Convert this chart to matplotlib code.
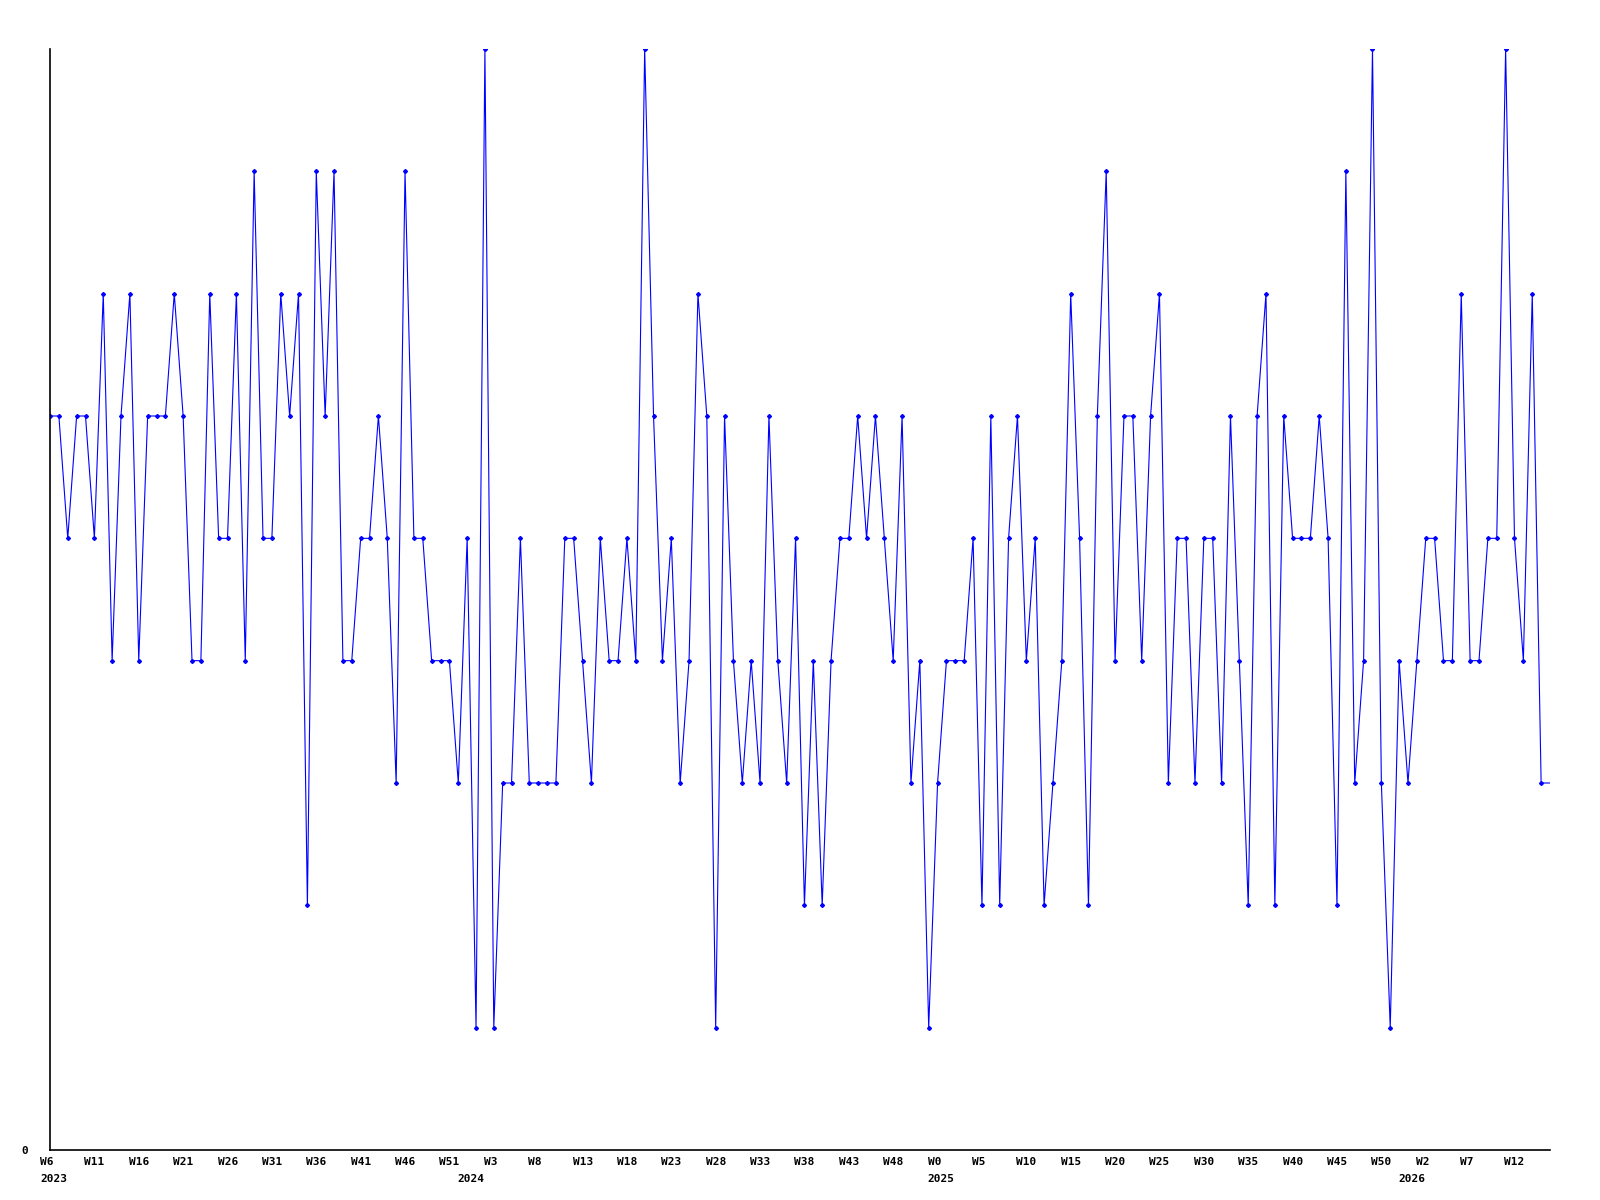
import matplotlib
matplotlib.use("Agg")
import matplotlib.pyplot as plt
import matplotlib.transforms as mtransforms

# weekly counts, 2023 W6 .. 2026 W16
values = [6, 6, 5, 6, 6, 5, 7, 4, 6, 7,
          4, 6, 6, 6, 7, 6, 4, 4, 7, 5,
          5, 7, 4, 8, 5, 5, 7, 6, 7, 2,
          8, 6, 8, 4, 4, 5, 5, 6, 5, 3,
          8, 5, 5, 4, 4, 4, 3, 5, 1, 9,
          1, 3, 3, 5, 3, 3, 3, 3, 5, 5,
          4, 3, 5, 4, 4, 5, 4, 9, 6, 4,
          5, 3, 4, 7, 6, 1, 6, 4, 3, 4,
          3, 6, 4, 3, 5, 2, 4, 2, 4, 5,
          5, 6, 5, 6, 5, 4, 6, 3, 4, 1,
          3, 4, 4, 4, 5, 2, 6, 2, 5, 6,
          4, 5, 2, 3, 4, 7, 5, 2, 6, 8,
          4, 6, 6, 4, 6, 7, 3, 5, 5, 3,
          5, 5, 3, 6, 4, 2, 6, 7, 2, 6,
          5, 5, 5, 6, 5, 2, 8, 3, 4, 9,
          3, 1, 4, 3, 4, 5, 5, 4, 4, 7,
          4, 4, 5, 5, 9, 5, 4, 7, 3, 3]

years = [2023, 2024, 2025, 2026]
first_week = 6     # first week shown in 2023
last_week = 16     # last week shown in 2026
weeks_per_year = 53  # W0 .. W52

week_labels = ["W6", "W11", "W16", "W21", "W26", "W31", "W36", "W41", "W46", "W51",
               "W3", "W8", "W13", "W18", "W23", "W28", "W33", "W38", "W43", "W48",
               "W0", "W5", "W10", "W15", "W20", "W25", "W30", "W35", "W40", "W45", "W50",
               "W2", "W7", "W12"]
year_labels = ["2023", "2024", "2025", "2026"]

# build the week categories
cats = []
for y in years:
    start = first_week if y == years[0] else 0
    end = last_week if y == years[-1] else weeks_per_year - 1
    for w in range(start, end + 1):
        cats.append((y, w))

x = list(range(len(cats)))
tick_pos = [i for i in x if i % 5 == 0][:len(week_labels)]
year_pos = [i for i, (y, w) in enumerate(cats) if i == 0 or w == 0]

plt.rcParams['font.family'] = ['DejaVu Sans Mono']
plt.rcParams['font.weight'] = 'bold'

fig = plt.figure(figsize=(16, 12), dpi=100)
ax = fig.add_axes([50 / 1600, 50 / 1200, 1500 / 1600, 1101 / 1200])

ax.plot(x, values, color="#0000ff", linewidth=0.8, marker="D", markersize=2.0,
        markevery=slice(0, len(x) - 1))

ax.set_xlim(0, len(x) - 1)
ax.set_ylim(0, 9)
for s in ["top", "right"]:
    ax.spines[s].set_visible(False)
ax.spines["left"].set_linewidth(1.2)
ax.spines["bottom"].set_linewidth(1.2)

ax.set_yticks([0], ["0"])
ax.tick_params(axis="y", length=0, pad=16, labelsize=8)

ax.xaxis.remove_overlapping_locs = False
ax.set_xticks(tick_pos, week_labels)
ax.set_xticks(year_pos, year_labels, minor=True)
ax.tick_params(axis="x", which="major", length=0, pad=5, labelsize=8)
ax.tick_params(axis="x", which="minor", length=0, pad=17, labelsize=8)

# labels start a little left of their week
shift = mtransforms.ScaledTranslation(-10 / 100, 0, fig.dpi_scale_trans)
for lab in ax.get_xticklabels() + ax.get_xticklabels(minor=True):
    lab.set_horizontalalignment("left")
    lab.set_transform(lab.get_transform() + shift)

fig.savefig("out.png", dpi=100)
